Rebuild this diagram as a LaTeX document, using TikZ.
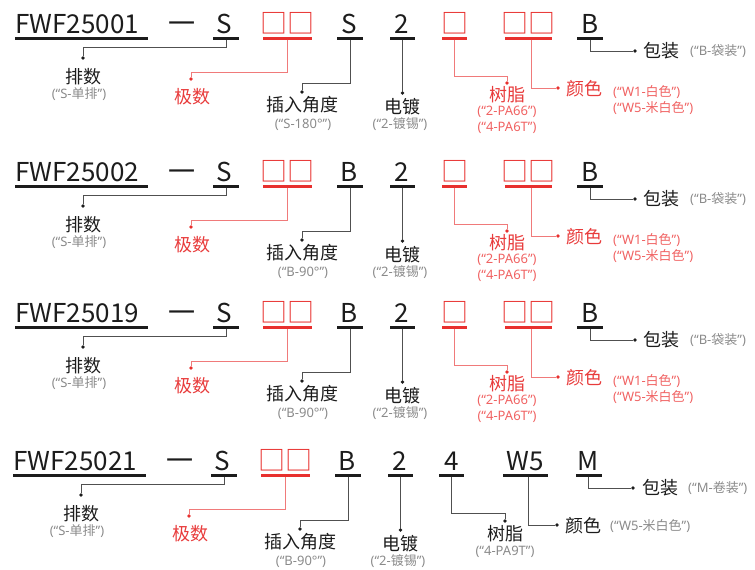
\documentclass[tikz,border=0pt]{standalone}
\usepackage{fontspec}
\setmainfont{Noto Sans CJK SC}
\newfontfamily\latf{Noto Sans}
\newcommand\qt[2]{{\latf (“#1}#2{\latf ”)}}
\definecolor{ink}{HTML}{1C1C1C}
\definecolor{wgray}{HTML}{505050}
\definecolor{sgray}{HTML}{8A8A8A}
\definecolor{cred}{HTML}{E8302E}
\definecolor{lred}{HTML}{E83B3B}
\definecolor{wred}{HTML}{F07A7A}
\definecolor{sred}{HTML}{F06262}
\tikzset{
 codet/.style={font=\fontsize{26}{26}\selectfont, text=ink, inner sep=0pt, anchor=base},
 rcodet/.style={codet, font=\fontsize{27}{27}\selectfont, text=cred},
 bar/.style={fill=ink, inner sep=0pt, minimum height=3pt},
 rbar/.style={bar, fill=cred},
 lbl/.style={font=\fontsize{18}{18}\selectfont, text=ink, inner sep=0pt},
 rlbl/.style={lbl, text=lred},
 subt/.style={font=\fontsize{13}{13}\selectfont, text=sgray, inner sep=0pt},
 rsubt/.style={subt, text=sred},
 wire/.style={draw=wgray, line width=0.8pt},
 rwire/.style={draw=wred, line width=0.8pt},
 dotk/.style={circle, fill=ink, inner sep=0pt, minimum size=3.6pt},
 dotr/.style={dotk, fill=cred},
}
% #1 suffix, #2 row y, #3 code, #4 insertion letter, #5 insertion note, #6 x shift
\newcommand\leftpart[6]{%
\begin{scope}[shift={(#6,#2)}]
 \node[bar, minimum width=133pt, anchor=west] (bc#1) at (15,0) {};
 \node[codet, anchor=base west] (tc#1) at (15,-4.5) {#3};
 \node[codet, font=\fontsize{27}{27}\selectfont, anchor=center] (dash#1) at (181.5,-10) {一};
 % row count
 \node[bar, minimum width=26pt] (bs#1) at (226,0) {};
 \node[codet] (ts#1) at (224,-4.5) {S};
 \node[dotk] (ds#1) at (83,20) {};
 \node[lbl] (ls#1) at (83,39) {排数};
 \node[subt] (ns#1) at (79,56) {\qt{S-}{单排}};
 \draw[wire] (bs#1.south) -- ++(0,7.5) -| (ds#1);
 % pole count
 \node[rbar, minimum width=49pt] (bp#1) at (287.5,0) {};
 \node[rcodet] (tp#1) at (287.5,-4.5) {□□};
 \node[dotr] (dp#1) at (191,41) {};
 \node[rlbl] (lp#1) at (192,59) {极数};
 \draw[rwire] (bp#1.south) -- ++(0,32.5) -| (dp#1);
 % insertion angle
 \node[bar, minimum width=26pt] (bi#1) at (350,0) {};
 \node[codet] (ti#1) at (349,-4.5) {#4};
 \node[dotk] (di#1) at (302,54) {};
 \node[lbl] (li#1) at (302,67) {插入角度};
 \node[subt] (ni#1) at (303,87) {{\latf #5}};
 \draw[wire] (bi#1.south) -- ++(0,43.5) -| (di#1);
\end{scope}}
% #1 suffix, #2 row y
\newcommand\rightpart[2]{%
\begin{scope}[shift={(0,#2)}]
 % plating
 \node[bar, minimum width=25pt] (be#1) at (402.5,0) {};
 \node[codet] (te#1) at (402,-4.5) {2};
 \node[dotk] (de#1) at (402.5,55) {};
 \node[lbl] (le#1) at (402,69) {电镀};
 \node[subt] (ne#1) at (400,86) {\qt{2-}{镀锡}};
 \draw[wire] (be#1.south) -- (de#1);
 % resin
 \node[rbar, minimum width=25pt] (br#1) at (454.5,0) {};
 \node[rcodet] (tr#1) at (454.5,-4.5) {□};
 \node[dotr] (dr#1) at (507,45) {};
 \node[rlbl] (lr#1) at (507,57) {树脂};
 \node[rsubt] (nr#1) at (507,74) {{\latf (“2-PA66”)}};
 \node[rsubt] (mr#1) at (507,90) {{\latf (“4-PA6T”)}};
 \draw[rwire] (br#1.south) -- ++(0,36.5) -| (dr#1);
 % colour
 \node[rbar, minimum width=47pt] (bk#1) at (528.5,0) {};
 \node[rcodet] (tk#1) at (528.5,-4.5) {□□};
 \node[dotr] (dk#1) at (558,50) {};
 \node[rlbl, anchor=west] (lk#1) at (566,51) {颜色};
 \node[rsubt, anchor=west] (nk#1) at (613,54) {\qt{W1-}{白色}};
 \node[rsubt, anchor=west] (mk#1) at (613,70) {\qt{W5-}{米白色}};
 \draw[rwire] (bk#1.south -| 531,0) |- (dk#1);
 % packing
 \node[bar, minimum width=26pt] (bb#1) at (590,0) {};
 \node[codet] (tb#1) at (590,-4.5) {B};
 \node[dotk] (db#1) at (635,13) {};
 \node[lbl, anchor=west] (lb#1) at (643,13) {包装};
 \node[subt, anchor=west] (nb#1) at (690,13) {\qt{B-}{袋装}};
 \draw[wire] (bb#1.south) |- (db#1);
\end{scope}}
\begin{document}
\begin{tikzpicture}[x=1pt, y=-1pt]
\useasboundingbox (0,0) rectangle (755,570);
\leftpart{a}{38}{FWF25001}{S}{(“S-180°”)}{0}
\rightpart{a}{38}
\leftpart{b}{186}{FWF25002}{B}{(“B-90°”)}{0}
\rightpart{b}{186}
\leftpart{c}{327}{FWF25019}{B}{(“B-90°”)}{0}
\rightpart{c}{327}
\leftpart{d}{475}{FWF25021}{B}{(“B-90°”)}{-2}
\begin{scope}[shift={(-2,475)}]
 % plating
 \node[bar, minimum width=25pt] (bed) at (402.5,0) {};
 \node[codet] (ted) at (402,-4.5) {2};
 \node[dotk] (ded) at (402.5,55) {};
 \node[lbl] (led) at (402,69) {电镀};
 \node[subt] (ned) at (400,86) {\qt{2-}{镀锡}};
 \draw[wire] (bed.south) -- (ded);
 % resin
 \node[bar, minimum width=25pt] (brd) at (453.5,0) {};
 \node[codet] (trd) at (453.5,-4.5) {4};
 \node[dotk] (drd) at (507,46) {};
 \node[lbl] (lrd) at (507,59) {树脂};
 \node[subt] (nrd) at (507,77) {{\latf (“4-PA9T”)}};
 \draw[wire] (brd.south) -- ++(0,36.5) -| (drd);
 % colour
 \node[bar, minimum width=45pt] (bkd) at (527.5,0) {};
 \node[codet] (tkd) at (527.5,-4.5) {W5};
 \node[dotk] (dkd) at (559,50) {};
 \node[lbl, anchor=west] (lkd) at (567,51) {颜色};
 \node[subt, anchor=west] (nkd) at (612,51) {\qt{W5-}{米白色}};
 \draw[wire] (bkd.south -| 530,0) |- (dkd);
 % packing
 \node[bar, minimum width=26pt] (bbd) at (590.5,0) {};
 \node[codet] (tbd) at (590.5,-4.5) {M};
 \node[dotk] (dbd) at (635,13) {};
 \node[lbl, anchor=west] (lbd) at (644,13) {包装};
 \node[subt, anchor=west] (nbd) at (690,13) {\qt{M-}{卷装}};
 \draw[wire] (bbd.south) |- (dbd);
\end{scope}
\end{tikzpicture}
\end{document}
